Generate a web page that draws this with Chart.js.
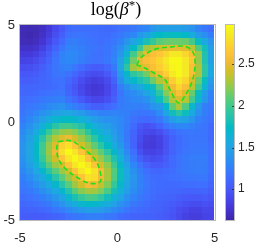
<!DOCTYPE html>
<html>
<head>
<meta charset="utf-8">
<script src="https://cdn.jsdelivr.net/npm/chart.js@4.4.1/dist/chart.umd.min.js"></script>
<style>
  html, body { margin: 0; padding: 0; background: #fff; }
  canvas { display: block; }
</style>
</head>
<body>
<canvas id="chart" width="259" height="242"></canvas>
<script>
// cell centres (x left->right, y top->bottom)
const gridX = [-4.833, -4.5, -4.167, -3.833, -3.5, -3.167, -2.833, -2.5, -2.167, -1.833, -1.5, -1.167, -0.833, -0.5, -0.167,
  0.167, 0.5, 0.833, 1.167, 1.5, 1.833, 2.167, 2.5, 2.833, 3.167, 3.5, 3.833, 4.167, 4.5, 4.833];
const gridY = [4.833, 4.5, 4.167, 3.833, 3.5, 3.167, 2.833, 2.5, 2.167, 1.833, 1.5, 1.167, 0.833, 0.5, 0.167,
  -0.167, -0.5, -0.833, -1.167, -1.5, -1.833, -2.167, -2.5, -2.833, -3.167, -3.5, -3.833, -4.167, -4.5, -4.833];

// log(beta*) per cell, one row per gridY entry
const logBeta = [
  [0.68,0.67,0.68,0.72,0.80,0.90,1.00,1.11,1.14,1.14,1.14,1.14,1.13,1.12,1.13,1.16,1.18,1.21,1.27,1.30,1.40,1.46,1.47,1.47,1.47,1.45,1.38,1.28,1.20,1.15],
  [0.67,0.66,0.68,0.73,0.82,0.94,1.05,1.16,1.18,1.18,1.16,1.15,1.14,1.14,1.17,1.20,1.26,1.30,1.43,1.50,1.65,1.74,1.76,1.76,1.76,1.72,1.58,1.43,1.35,1.25],
  [0.69,0.68,0.71,0.77,0.88,1.00,1.11,1.23,1.24,1.22,1.19,1.17,1.14,1.17,1.20,1.27,1.38,1.52,1.66,1.82,1.95,2.08,2.12,2.13,2.13,2.12,2.00,1.76,1.55,1.38],
  [0.73,0.73,0.76,0.84,0.96,1.08,1.19,1.28,1.28,1.25,1.21,1.18,1.16,1.19,1.24,1.35,1.52,1.74,1.98,2.27,2.33,2.43,2.47,2.50,2.50,2.47,2.33,2.05,1.80,1.47],
  [0.79,0.80,0.84,0.92,1.03,1.15,1.27,1.31,1.31,1.27,1.21,1.17,1.15,1.19,1.26,1.40,1.65,2.00,2.25,2.50,2.60,2.65,2.75,2.85,2.85,2.75,2.60,2.25,1.85,1.50],
  [0.86,0.87,0.91,0.98,1.08,1.18,1.28,1.31,1.29,1.24,1.19,1.16,1.16,1.20,1.28,1.48,1.80,2.15,2.50,2.60,2.65,2.75,2.85,2.95,2.95,2.85,2.65,2.25,1.85,1.50],
  [0.93,0.94,0.98,1.04,1.11,1.18,1.25,1.27,1.20,1.13,1.06,1.02,1.04,1.10,1.22,1.53,1.90,2.28,2.40,2.50,2.60,2.70,2.80,2.92,2.95,2.85,2.60,2.30,1.90,1.55],
  [0.99,1.00,1.03,1.07,1.12,1.18,1.21,1.16,1.10,1.02,0.95,0.92,0.94,1.01,1.14,1.43,1.70,1.92,2.02,2.15,2.38,2.55,2.70,2.87,2.95,2.85,2.60,2.30,1.90,1.55],
  [1.04,1.04,1.06,1.09,1.12,1.15,1.17,1.10,1.02,0.93,0.86,0.82,0.85,0.92,1.06,1.36,1.58,1.71,1.83,1.92,2.13,2.32,2.45,2.70,2.85,2.75,2.45,2.12,1.76,1.45],
  [1.09,1.09,1.09,1.10,1.12,1.14,1.16,1.06,0.98,0.88,0.81,0.78,0.80,0.88,1.00,1.24,1.36,1.47,1.55,1.70,1.78,2.07,2.35,2.55,2.75,2.60,2.35,2.00,1.65,1.38],
  [1.10,1.10,1.11,1.15,1.16,1.19,1.20,1.09,1.01,0.91,0.83,0.79,0.81,0.89,1.01,1.18,1.29,1.34,1.41,1.51,1.63,1.90,2.20,2.45,2.60,2.45,2.12,1.76,1.46,1.28],
  [1.14,1.15,1.17,1.20,1.23,1.25,1.26,1.17,1.10,1.01,0.93,0.88,0.89,0.95,1.05,1.21,1.26,1.30,1.32,1.37,1.53,1.78,2.05,2.32,2.45,2.32,2.00,1.68,1.42,1.26],
  [1.16,1.20,1.23,1.27,1.32,1.35,1.38,1.30,1.25,1.18,1.10,1.05,1.05,1.10,1.15,1.23,1.25,1.26,1.24,1.28,1.39,1.43,1.72,2.10,2.30,2.05,1.69,1.42,1.25,1.20],
  [1.19,1.24,1.30,1.37,1.42,1.49,1.53,1.54,1.49,1.44,1.36,1.31,1.27,1.27,1.28,1.27,1.25,1.21,1.18,1.19,1.22,1.33,1.53,1.79,1.90,1.78,1.55,1.36,1.24,1.19],
  [1.22,1.30,1.38,1.48,1.59,1.68,1.73,1.75,1.71,1.64,1.55,1.47,1.41,1.37,1.35,1.31,1.24,1.16,1.13,1.11,1.14,1.20,1.34,1.47,1.54,1.50,1.38,1.27,1.21,1.17],
  [1.27,1.37,1.48,1.62,1.77,1.89,1.99,2.00,1.95,1.86,1.73,1.62,1.53,1.47,1.39,1.32,1.23,1.13,1.00,0.95,0.99,1.08,1.18,1.26,1.30,1.30,1.26,1.21,1.18,1.12],
  [1.32,1.43,1.59,1.77,1.96,2.14,2.24,2.27,2.21,2.09,1.91,1.76,1.63,1.54,1.44,1.33,1.21,1.09,0.95,0.90,0.88,0.94,1.04,1.12,1.17,1.19,1.20,1.19,1.18,1.12],
  [1.35,1.49,1.68,1.89,2.14,2.32,2.46,2.52,2.41,2.26,2.10,1.91,1.76,1.63,1.49,1.36,1.21,1.07,0.92,0.83,0.81,0.86,0.97,1.06,1.13,1.17,1.19,1.18,1.18,1.12],
  [1.38,1.53,1.73,1.99,2.24,2.46,2.72,2.80,2.64,2.42,2.26,2.10,1.91,1.75,1.58,1.42,1.25,1.08,0.89,0.81,0.80,0.85,0.96,1.07,1.13,1.17,1.20,1.20,1.20,1.14],
  [1.38,1.54,1.74,2.00,2.27,2.52,2.80,2.95,2.84,2.64,2.42,2.26,2.10,1.90,1.71,1.52,1.32,1.15,0.95,0.86,0.85,0.88,0.98,1.08,1.14,1.18,1.22,1.22,1.22,1.15],
  [1.37,1.52,1.71,1.95,2.21,2.41,2.64,2.84,2.95,2.84,2.64,2.42,2.26,2.08,1.85,1.62,1.40,1.22,1.05,0.96,0.92,0.95,1.03,1.11,1.16,1.22,1.24,1.24,1.24,1.15],
  [1.34,1.47,1.64,1.84,2.07,2.26,2.42,2.64,2.84,2.95,2.84,2.64,2.42,2.22,1.98,1.72,1.49,1.30,1.16,1.07,1.01,1.01,1.06,1.12,1.16,1.21,1.23,1.24,1.23,1.15],
  [1.30,1.40,1.54,1.70,1.88,2.08,2.26,2.42,2.64,2.84,2.95,2.82,2.56,2.29,2.06,1.78,1.55,1.36,1.23,1.15,1.10,1.09,1.11,1.14,1.18,1.21,1.23,1.24,1.23,1.15],
  [1.25,1.34,1.44,1.56,1.71,1.88,2.08,2.26,2.42,2.64,2.82,2.78,2.53,2.29,2.04,1.77,1.56,1.40,1.26,1.18,1.14,1.13,1.14,1.15,1.16,1.18,1.19,1.20,1.20,1.13],
  [1.22,1.27,1.35,1.44,1.56,1.71,1.88,2.08,2.26,2.42,2.56,2.53,2.37,2.19,1.95,1.71,1.53,1.38,1.27,1.20,1.15,1.13,1.11,1.12,1.13,1.14,1.14,1.15,1.15,1.09],
  [1.18,1.22,1.27,1.35,1.44,1.55,1.70,1.87,2.07,2.21,2.28,2.28,2.18,2.03,1.82,1.63,1.47,1.34,1.25,1.19,1.14,1.11,1.10,1.10,1.09,1.08,1.08,1.08,1.09,1.04],
  [1.14,1.16,1.20,1.25,1.32,1.41,1.53,1.68,1.83,1.95,2.03,2.01,1.93,1.80,1.64,1.51,1.37,1.28,1.21,1.16,1.13,1.09,1.08,1.06,1.04,1.01,1.00,1.00,1.02,0.99],
  [1.10,1.11,1.14,1.17,1.22,1.30,1.38,1.49,1.59,1.68,1.72,1.71,1.66,1.58,1.49,1.37,1.29,1.21,1.16,1.13,1.09,1.08,1.05,1.02,0.99,0.95,0.92,0.92,0.95,0.93],
  [1.06,1.07,1.08,1.10,1.13,1.18,1.24,1.31,1.37,1.43,1.47,1.46,1.44,1.38,1.31,1.26,1.19,1.14,1.11,1.10,1.07,1.06,1.03,0.99,0.93,0.89,0.85,0.85,0.89,0.88],
  [1.04,1.03,1.02,1.03,1.05,1.08,1.10,1.16,1.19,1.22,1.25,1.25,1.24,1.21,1.18,1.13,1.10,1.08,1.07,1.06,1.06,1.04,1.01,0.97,0.91,0.85,0.82,0.82,0.86,0.87]
];

// dashed level curves
const contourAX = [1.0, 1.2, 1.6, 2.1, 2.8, 3.5, 3.9, 4.0, 3.85, 3.5, 3.15, 2.75, 2.45, 1.95, 1.45, 1.0];
const contourAY = [2.95, 3.3, 3.6, 3.8, 3.88, 3.9, 3.6, 2.95, 2.1, 1.4, 1.0, 1.6, 2.2, 2.5, 2.78, 2.95];
const contourBX = [-3.03, -2.42, -1.74, -1.13, -0.88, -0.88, -1.39, -1.99, -2.68, -3.03, -3.11, -3.03];
const contourBY = [-0.98, -0.93, -1.33, -1.92, -2.52, -3.04, -3.12, -2.86, -2.35, -1.84, -1.32, -0.98];

const xTicks = [-5, 0, 5];
const yTicks = [-5, 0, 5];
const cbTicks = [1, 1.5, 2, 2.5];
const cbMin = 0.63;
const cbMax = 2.97;

// parula colormap anchors [t, r, g, b]
const PARULA = [
  [0.000, 62, 38, 168], [0.063, 69, 55, 213], [0.111, 71, 71, 235], [0.159, 71, 88, 248],
  [0.222, 62, 111, 255], [0.286, 46, 135, 247], [0.333, 39, 151, 235], [0.381, 32, 165, 227],
  [0.429, 18, 177, 214], [0.476, 2, 186, 195], [0.524, 36, 193, 174], [0.571, 55, 200, 151],
  [0.619, 87, 204, 122], [0.667, 129, 204, 89], [0.714, 171, 199, 57], [0.762, 209, 191, 39],
  [0.810, 240, 186, 54], [0.857, 254, 195, 56], [0.905, 250, 214, 45], [0.952, 245, 233, 36],
  [1.000, 249, 251, 21]
];

function parula(t) {
  t = Math.max(0, Math.min(1, t));
  for (let i = 1; i < PARULA.length; i++) {
    const a = PARULA[i - 1], b = PARULA[i];
    if (t <= b[0]) {
      const f = (t - a[0]) / (b[0] - a[0]);
      const c = [1, 2, 3].map((k) => Math.round(a[k] + f * (b[k] - a[k])));
      return `rgb(${c[0]}, ${c[1]}, ${c[2]})`;
    }
  }
  return "rgb(249, 251, 21)";
}

function colorFor(v) {
  return parula((v - cbMin) / (cbMax - cbMin));
}

// cell borders halfway between neighbouring centres
function edgesOf(c) {
  const e = [c[0] - (c[1] - c[0]) / 2];
  for (let i = 1; i < c.length; i++) e.push((c[i - 1] + c[i]) / 2);
  e.push(c[c.length - 1] + (c[c.length - 1] - c[c.length - 2]) / 2);
  return e;
}

// keep the plot box fixed: no extra room for overhanging labels
function fixBox(size, key) {
  return (s) => {
    s[key] = size;
    s.paddingTop = 0;
    s.paddingBottom = 0;
    s.paddingLeft = 0;
    s.paddingRight = 0;
  };
}

const heatmapPlugin = {
  id: "heatmap",
  beforeDatasetsDraw(chart) {
    const { ctx, scales } = chart;
    const xs = scales.x, ys = scales.y;
    const xe = edgesOf(gridX).map((v) => Math.round(xs.getPixelForValue(v)));
    const ye = edgesOf(gridY).map((v) => Math.round(ys.getPixelForValue(v)));
    ctx.save();
    gridY.forEach((gy, j) => {
      gridX.forEach((gx, i) => {
        ctx.fillStyle = colorFor(logBeta[j][i]);
        ctx.fillRect(xe[i], ye[j], xe[i + 1] - xe[i], ye[j + 1] - ye[j]);
      });
    });
    ctx.restore();
  },
  afterDatasetsDraw(chart) {
    const { ctx, chartArea: a } = chart;
    ctx.save();
    ctx.strokeStyle = "rgba(60, 60, 60, 0.35)";
    ctx.lineWidth = 1;
    ctx.strokeRect(Math.round(a.left) - 0.5, Math.round(a.top) - 0.5,
      Math.round(a.right - a.left) + 1, Math.round(a.bottom - a.top) + 1);
    ctx.restore();
  }
};

const colorbarPlugin = {
  id: "colorbar",
  afterDraw(chart) {
    const { ctx, chartArea: a } = chart;
    const cb = chart.scales.cb;
    const left = Math.round(a.right + 11.5);
    const width = 8;
    const top = Math.round(cb.getPixelForValue(cbMax));
    const bottom = Math.round(cb.getPixelForValue(cbMin));
    ctx.save();
    const grad = ctx.createLinearGradient(0, bottom, 0, top);
    PARULA.forEach((p) => grad.addColorStop(p[0], `rgb(${p[1]}, ${p[2]}, ${p[3]})`));
    ctx.fillStyle = grad;
    ctx.fillRect(left, top, width, bottom - top);
    ctx.strokeStyle = "rgba(60, 60, 60, 0.35)";
    ctx.lineWidth = 1;
    ctx.strokeRect(left - 0.5, top - 0.5, width + 1, bottom - top + 1);
    ctx.strokeStyle = "rgba(40, 40, 40, 0.8)";
    cbTicks.forEach((v) => {
      const py = Math.round(cb.getPixelForValue(v)) + 0.5;
      ctx.beginPath();
      ctx.moveTo(left + width, py);
      ctx.lineTo(left + width - 2, py);
      ctx.stroke();
    });
    ctx.restore();
  }
};

const titlePlugin = {
  id: "texTitle",
  afterDraw(chart) {
    const { ctx } = chart;
    const size = 18;
    const parts = [
      { text: "log(", font: `${size}px "Liberation Serif", serif`, dy: 0 },
      { text: "β", font: `italic ${size}px "Liberation Serif", serif`, dy: 0 },
      { text: "*", font: `${Math.round(size * 0.72)}px "Liberation Serif", serif`, dy: -6 },
      { text: ")", font: `${size}px "Liberation Serif", serif`, dy: 0 }
    ];
    ctx.save();
    let total = 0;
    parts.forEach((p) => {
      ctx.font = p.font;
      p.w = ctx.measureText(p.text).width;
      total += p.w;
    });
    let x = 116 - total / 2;
    const baseline = 15;
    ctx.fillStyle = "#000";
    ctx.textBaseline = "alphabetic";
    ctx.textAlign = "left";
    parts.forEach((p) => {
      ctx.font = p.font;
      ctx.fillText(p.text, x, baseline + p.dy);
      x += p.w;
    });
    ctx.restore();
  }
};

const tickFont = { family: '"Liberation Sans", Arial, sans-serif', size: 13 };
const lineStyle = {
  showLine: true,
  borderColor: "#1fe01f",
  borderWidth: 1.6,
  borderDash: [5, 3],
  pointRadius: 0,
  tension: 0.35,
  fill: false
};

new Chart(document.getElementById("chart"), {
  type: "scatter",
  data: {
    datasets: [
      Object.assign({ data: contourAX.map((x, i) => ({ x, y: contourAY[i] })) }, lineStyle),
      Object.assign({ data: contourBX.map((x, i) => ({ x, y: contourBY[i] })) }, lineStyle)
    ]
  },
  options: {
    responsive: false,
    devicePixelRatio: 1,
    animation: false,
    layout: { padding: { top: 25, left: 0, right: 0, bottom: 0 } },
    plugins: { legend: { display: false }, tooltip: { enabled: false }, title: { display: false } },
    scales: {
      x: {
        type: "linear",
        min: -5,
        max: 5,
        afterBuildTicks: (s) => { s.ticks = xTicks.map((v) => ({ value: v })); },
        afterFit: fixBox(22, "height"),
        grid: { display: false, drawTicks: false },
        border: { display: false },
        ticks: { font: tickFont, color: "#262626", padding: 11, maxRotation: 0, autoSkip: false, callback: (v) => String(v) }
      },
      y: {
        type: "linear",
        min: -5,
        max: 5,
        afterBuildTicks: (s) => { s.ticks = yTicks.map((v) => ({ value: v })); },
        afterFit: fixBox(20, "width"),
        grid: { display: false, drawTicks: false },
        border: { display: false },
        ticks: { font: tickFont, color: "#262626", padding: 5, autoSkip: false, callback: (v) => String(v) }
      },
      cb: {
        type: "linear",
        position: "right",
        min: cbMin,
        max: cbMax,
        afterBuildTicks: (s) => { s.ticks = cbTicks.map((v) => ({ value: v })); },
        afterFit: fixBox(44.5, "width"),
        grid: { display: false, drawTicks: false },
        border: { display: false },
        ticks: { font: { family: tickFont.family, size: 12 }, color: "#262626", padding: 23.5, autoSkip: false, callback: (v) => String(v) }
      }
    }
  },
  plugins: [heatmapPlugin, colorbarPlugin, titlePlugin]
});
</script>
</body>
</html>
